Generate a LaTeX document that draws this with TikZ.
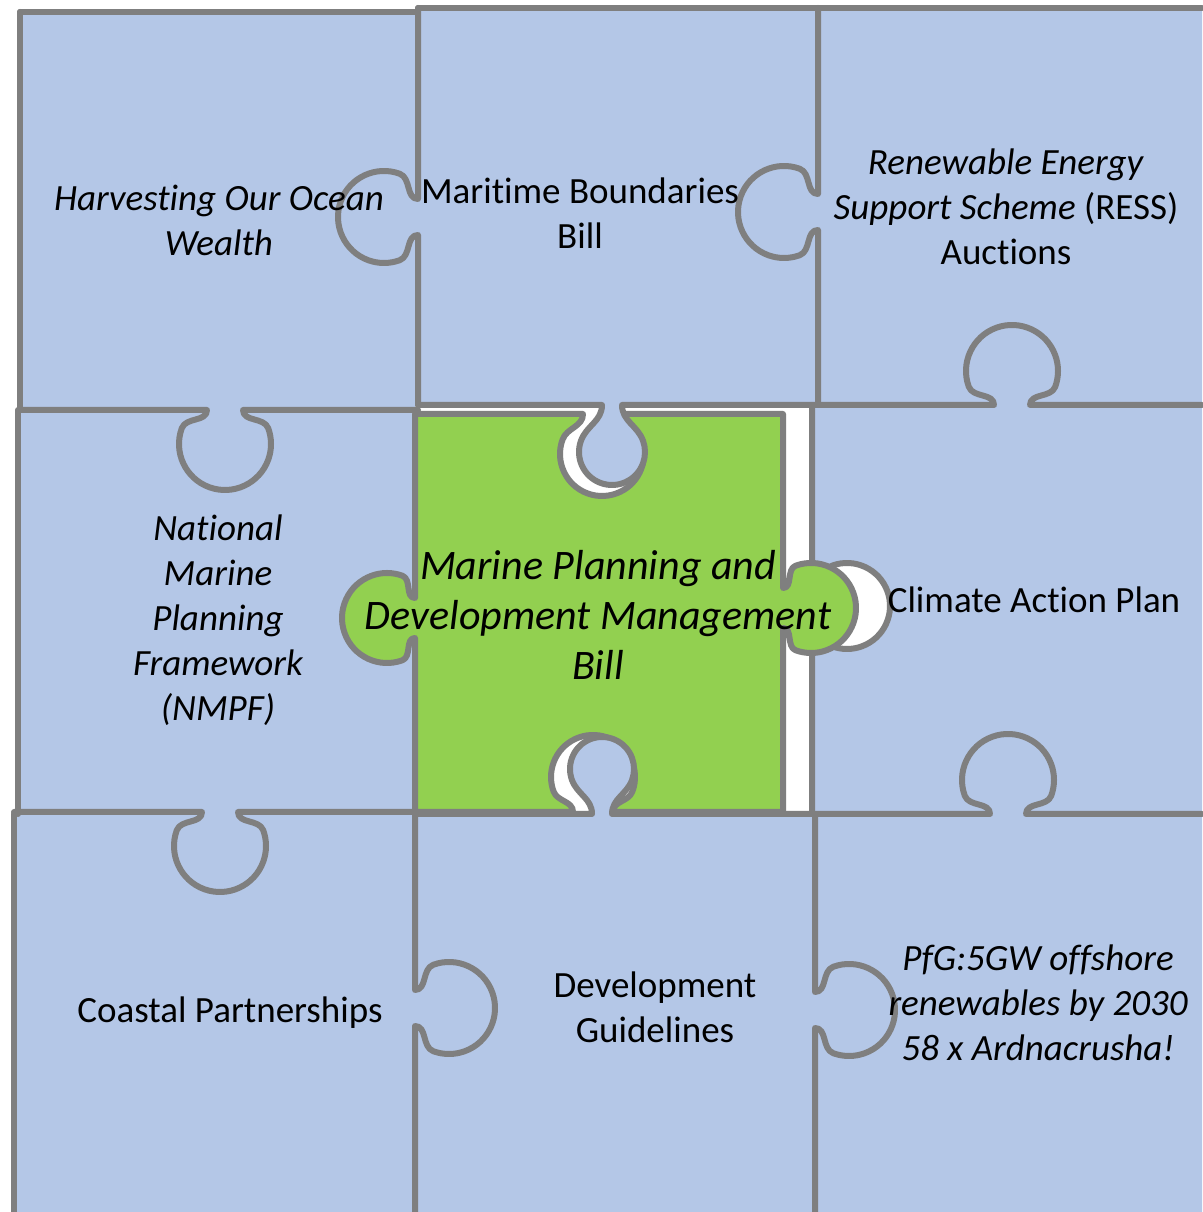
\documentclass[tikz,border=0pt]{standalone}
\usepackage{fontspec}
\setmainfont{Carlito}[Ligatures=NoCommon]
\definecolor{pieceblue}{HTML}{B4C7E7}
\definecolor{piecegreen}{HTML}{92D050}
\definecolor{seamgray}{HTML}{7F7F7F}
\newcommand{\knob}[5]{%
  to[out={#1+#2*90},in={#1+#2*290}]
  ++({(#3-#5*cos(20))*cos(#1)+(#4-#5*sin(20))*cos(#1+#2*90)},{(#3-#5*cos(20))*sin(#1)+(#4-#5*sin(20))*sin(#1+#2*90)})
  arc[start angle={#1+#2*200},end angle={#1-#2*20},radius=#5]
  to[out={#1+#2*250},in={#1+#2*90}]
  ++({(#3-#5*cos(20))*cos(#1)-(#4-#5*sin(20))*cos(#1+#2*90)},{(#3-#5*cos(20))*sin(#1)-(#4-#5*sin(20))*sin(#1+#2*90)})}

\begin{document}
\begin{tikzpicture}[x=1pt,y=1pt,line join=round,line cap=round,
      seam/.style={draw=seamgray,line width=6pt},
      piece text/.style={font=\fontsize{37}{45}\selectfont,align=center},
      piece italic/.style={font=\fontsize{37}{45}\selectfont\itshape,align=center},
      main text/.style={font=\fontsize{42}{50}\selectfont\itshape,align=center}]

    \useasboundingbox (0,0) rectangle (1202,1212);
    \fill[white] (0,0) rectangle (1202,1212);
    \fill[pieceblue] (20,1200) -- (418,1200) -- (418,1204) -- (1202,1204) -- (1202,0)
      -- (14,0) -- (14,400) -- (18,400) -- (18,802) -- (20,802) -- cycle;

    \fill[white] (415,398) rectangle (812,807);
    \fill[white] (812,624) \knob{270}{1}{18}{35}{43} -- cycle;
    \draw[seam] (812,807) -- (812,624) \knob{270}{1}{18}{35}{43} -- (812,398);

    \filldraw[seam,fill=piecegreen] (415,798) -- (583,798) \knob{0}{-1}{19}{40}{42}
      -- (783,798) -- (783,624) \knob{270}{1}{20}{28}{45}
      -- (783,400) -- (613,400) \knob{180}{-1}{20}{35}{42}
      -- (415,400) -- (415,574) \knob{90}{1}{20}{28}{45} -- cycle;

    \fill[pieceblue] (602,807) \knob{0}{-1}{10}{47}{33} -- cycle;
    \fill[pieceblue] (592,398) \knob{0}{1}{10}{45}{32} -- cycle;

    \draw[seam] (20,1200) -- (418,1200);
    \draw[seam] (418,1204) -- (1202,1204);
    \draw[seam] (20,1200) -- (20,802);
    \draw[seam] (18,802) -- (18,398);
    \draw[seam] (14,398) -- (14,0);
    \draw[seam] (418,1204) -- (418,1013) \knob{270}{-1}{18}{34}{46} -- (418,807);
    \draw[seam] (818,1204) -- (818,1018) \knob{270}{-1}{18}{34}{46} -- (818,807);
    \draw[seam] (418,807) -- (602,807) \knob{0}{-1}{10}{47}{33}
      -- (994,807) \knob{0}{1}{18}{34}{46} -- (1202,807);
    \draw[seam] (20,802) -- (207,802) \knob{0}{-1}{18}{34}{46} -- (418,802);
    \draw[seam] (14,400) -- (202,400) \knob{0}{-1}{18}{34}{46} -- (415,400);
    \draw[seam] (415,400) -- (415,222) \knob{270}{1}{18}{34}{46} -- (415,0);
    \draw[seam] (415,398) -- (592,398) \knob{0}{1}{10}{45}{32}
      -- (990,398) \knob{0}{1}{18}{34}{46} -- (1202,398);
    \draw[seam] (815,398) -- (815,220) \knob{270}{1}{18}{34}{46} -- (815,0);

    \node[piece italic] (harvest) at (219,992) {Harvesting Our Ocean\\Wealth};
    \node[piece text] (maritime) at (580,999) {Maritime Boundaries\\Bill};
    \node[piece text] (ress) at (1006,1005) {\textit{Renewable Energy}\\\textit{Support Scheme} (RESS)\\Auctions};
    \node[piece italic] (nmpf) at (218,592) {National\\Marine\\Planning\\Framework\\(NMPF)};
    \node[main text] (mpdm) at (598,597) {Marine Planning and\\Development Management\\Bill};
    \node[piece text] (climate) at (1034,612) {Climate Action Plan};
    \node[piece text] (coastal) at (230,199) {Coastal Partnerships};
    \node[piece text] (devguide) at (655,205) {Development\\Guidelines};
    \node[piece italic] (pfg) at (1038,209) {PfG:5GW offshore\\renewables by 2030\\58 x Ardnacrusha!};
    \end{tikzpicture}
\end{document}
